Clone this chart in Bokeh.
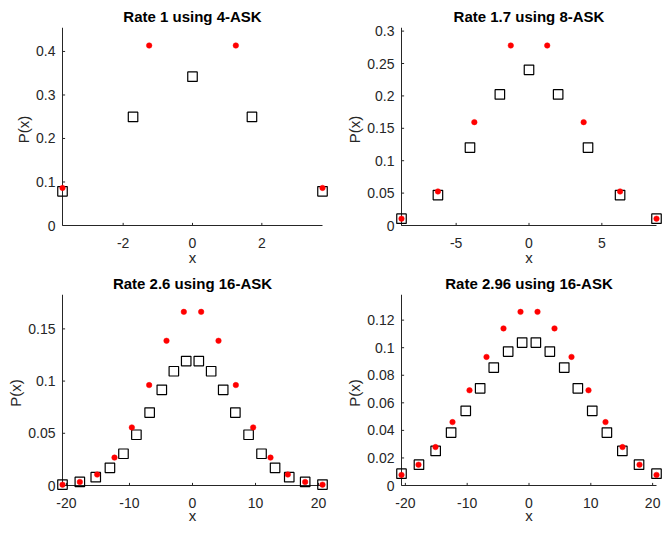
from bokeh.plotting import figure
from bokeh.layouts import row, column
from bokeh.models import Range1d, FixedTicker
from bokeh.embed import file_html
from bokeh.resources import INLINE

# ---------------- data ----------------
titles = ["Rate 1 using 4-ASK", "Rate 1.7 using 8-ASK",
          "Rate 2.6 using 16-ASK", "Rate 2.96 using 16-ASK"]

# subplot 1
red_x1 = [-3.75, -1.25, 1.25, 3.75]
red_p1 = [0.0863, 0.4137, 0.4137, 0.0863]
sq_x1 = [-3.75, -1.715, 0.0, 1.715, 3.75]
sq_p1 = [0.0786, 0.2496, 0.342, 0.2496, 0.0786]

# subplot 2
red_x2 = [-8.75, -6.25, -3.75, -1.25, 1.25, 3.75, 6.25, 8.75]
red_p2 = [0.0105, 0.0525, 0.1595, 0.2778, 0.2778, 0.1595, 0.0525, 0.0105]
sq_x2 = [-8.75, -6.25, -4.05, -2.0, 0.0, 2.0, 4.05, 6.25, 8.75]
sq_p2 = [0.0105, 0.047, 0.1203, 0.2023, 0.2403, 0.2023, 0.1203, 0.047, 0.0105]

# subplot 3
red_x3 = [-20.625, -17.875, -15.125, -12.375, -9.625, -6.875, -4.125, -1.375,
          1.375, 4.125, 6.875, 9.625, 12.375, 15.125, 17.875, 20.625]
red_p3 = [0.0008, 0.0034, 0.0105, 0.0267, 0.0556, 0.0962, 0.1386, 0.1663,
          0.1663, 0.1386, 0.0962, 0.0556, 0.0267, 0.0105, 0.0034, 0.0008]
sq_x3 = [-20.625, -17.875, -15.35, -13.1, -10.95, -8.9, -6.8, -4.87, -2.96, -1.0,
         1.0, 2.96, 4.87, 6.8, 8.9, 10.95, 13.1, 15.35, 17.875, 20.625]
sq_p3 = [0.0009, 0.0034, 0.0080, 0.0169, 0.0304, 0.0486, 0.0698, 0.0916, 0.1094, 0.1192,
         0.1192, 0.1094, 0.0916, 0.0698, 0.0486, 0.0304, 0.0169, 0.0080, 0.0034, 0.0009]

# subplot 4
red_x4 = [-20.625, -17.875, -15.125, -12.375, -9.625, -6.875, -4.125, -1.375,
          1.375, 4.125, 6.875, 9.625, 12.375, 15.125, 17.875, 20.625]
red_p4 = [0.0077, 0.0151, 0.0279, 0.0460, 0.0691, 0.0933, 0.1140, 0.1260,
          0.1260, 0.1140, 0.0933, 0.0691, 0.0460, 0.0279, 0.0151, 0.0077]
sq_x4 = [-20.625, -17.8, -15.1, -12.6, -10.23, -7.9, -5.7, -3.37, -1.11,
         1.11, 3.37, 5.7, 7.9, 10.23, 12.6, 15.1, 17.8, 20.625]
sq_p4 = [0.0086, 0.0151, 0.0251, 0.0384, 0.0542, 0.0705, 0.0856, 0.0972, 0.1037,
         0.1037, 0.0972, 0.0856, 0.0705, 0.0542, 0.0384, 0.0251, 0.0151, 0.0086]

# ticks
xt1 = [-2, 0, 2];            xl1 = ["-2", "0", "2"]
yt1 = [0, 0.1, 0.2, 0.3, 0.4]; yl1 = ["0", "0.1", "0.2", "0.3", "0.4"]
xt2 = [-5, 0, 5];            xl2 = ["-5", "0", "5"]
yt2 = [0, 0.05, 0.1, 0.15, 0.2, 0.25, 0.3]
yl2 = ["0", "0.05", "0.1", "0.15", "0.2", "0.25", "0.3"]
xt3 = [-20, -10, 0, 10, 20]; xl3 = ["-20", "-10", "0", "10", "20"]
yt3 = [0, 0.05, 0.1, 0.15];  yl3 = ["0", "0.05", "0.1", "0.15"]
xt4 = [-20, -10, 0, 10, 20]; xl4 = ["-20", "-10", "0", "10", "20"]
yt4 = [0, 0.02, 0.04, 0.06, 0.08, 0.1, 0.12]
yl4 = ["0", "0.02", "0.04", "0.06", "0.08", "0.1", "0.12"]

# ---------------- styling / layout ----------------
FONT = "Liberation Sans"
AX = "#262626"
PAD = 6        # px of frame beyond the spines (so edge markers are not clipped)
TICK = 2.6     # px tick length (inward)


def make(title, rx, rp, sx, sp, xt, xl, yt, yl,
         fig_w, fig_h, mb_left, mb_top, spine_w, spine_h, xlab_standoff):
    xmin, xmax = min(rx + sx), max(rx + sx)
    ymax = 1.1 * max(rp + sp)
    ux = (xmax - xmin) / spine_w
    uy = ymax / spine_h
    p = figure(width=fig_w, height=fig_h, output_backend="svg",
               toolbar_location=None,
               x_range=Range1d(xmin - PAD * ux, xmax + PAD * ux),
               y_range=Range1d(-PAD * uy, ymax),
               min_border_left=mb_left,
               min_border_right=fig_w - mb_left - spine_w - 2 * PAD,
               min_border_top=mb_top,
               min_border_bottom=fig_h - mb_top - spine_h - PAD)
    p.outline_line_color = None
    p.background_fill_color = "white"
    p.border_fill_color = "white"
    p.xgrid.visible = False
    p.ygrid.visible = False

    p.title.text = title
    p.title.align = "center"
    p.title.text_font = FONT
    p.title.text_font_size = "15px"
    p.title.text_font_style = "bold"
    p.title.text_color = "#000000"
    p.title.standoff = 6

    for ax, ticks, labs in ((p.xaxis[0], xt, xl), (p.yaxis[0], yt, yl)):
        ax.ticker = FixedTicker(ticks=ticks)
        ax.major_label_overrides = {t: s for t, s in zip(ticks, labs)}
        ax.axis_line_color = None
        ax.major_tick_in = 0
        ax.major_tick_out = 0
        ax.minor_tick_in = 0
        ax.minor_tick_out = 0
        ax.major_label_text_font = FONT
        ax.major_label_text_font_size = "14px"
        ax.major_label_text_color = AX
        ax.axis_label_text_font = FONT
        ax.axis_label_text_font_size = "15px"
        ax.axis_label_text_font_style = "normal"
        ax.axis_label_text_color = AX
    p.xaxis.axis_label = "x"
    p.yaxis.axis_label = "P(x)"
    p.xaxis.major_label_standoff = 6
    p.xaxis.axis_label_standoff = xlab_standoff
    p.yaxis.major_label_standoff = 1
    p.yaxis.axis_label_standoff = 1

    # spines
    p.segment(x0=[xmin, xmin], y0=[0, 0], x1=[xmax, xmin], y1=[0, ymax],
              line_color=AX, line_width=1)
    # inward ticks
    p.segment(x0=xt, y0=[0] * len(xt), x1=xt, y1=[TICK * uy] * len(xt),
              line_color=AX, line_width=1)
    p.segment(x0=[xmin] * len(yt), y0=yt, x1=[xmin + TICK * ux] * len(yt), y1=yt,
              line_color=AX, line_width=1)

    p.scatter(sx, sp, marker="square", size=9.5, fill_color=None,
              line_color="black", line_width=1.2)
    p.scatter(rx, rp, marker="circle", size=5.5, fill_color="#ff0000",
              line_color="#ff0000", line_width=0.5)
    return p


W1, W2 = 332, 330
H1, H2 = 269, 257
p1 = make(titles[0], red_x1, red_p1, sq_x1, sq_p1, xt1, xl1, yt1, yl1,
          W1, H1, 56, 27, 260, 198, -2)
p2 = make(titles[1], red_x2, red_p2, sq_x2, sq_p2, xt2, xl2, yt2, yl2,
          W2, H1, 63, 27, 255, 198, -2)
p3 = make(titles[2], red_x3, red_p3, sq_x3, sq_p3, xt3, xl3, yt3, yl3,
          W1, H2, 56, 25, 260, 191, -4)
p4 = make(titles[3], red_x4, red_p4, sq_x4, sq_p4, xt4, xl4, yt4, yl4,
          W2, H2, 63, 25, 255, 191, -4)

layout = column(row(p1, p2), row(p3, p4))
open("out.html", "w").write(file_html(layout, INLINE))
